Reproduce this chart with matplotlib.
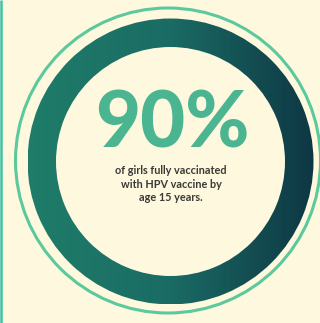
import numpy as np
import matplotlib
matplotlib.use("Agg")
import matplotlib.pyplot as plt
from matplotlib.patches import Wedge, Circle
from matplotlib.colors import LinearSegmentedColormap

# 数据
pct_value = 90
caption_lines = ["of girls fully vaccinated", "with HPV vaccine by", "age 15 years."]

bg = "#fef8df"
W, H = 320, 323

fig = plt.figure(figsize=(W / 100, H / 100), dpi=100, facecolor=bg)
ax = fig.add_axes([0, 0, 1, 1])
ax.set_xlim(0, W)
ax.set_ylim(H, 0)
ax.set_aspect("equal")
ax.axis("off")
ax.set_facecolor(bg)

# 左边的细线
ax.plot([0.6, 0.6], [0, H], color="#3fc2a8", lw=1.8, solid_capstyle="butt")

# 外圈细环
ax.add_patch(Circle((168, 160.5), 152.5, fill=False, ec="#5cc99d", lw=2.2))

# 渐变粗环
cx, cy, r_out, r_in = 170.5, 161.5, 143, 114.5
ring = Wedge((cx, cy), r_out, 0, 360, width=r_out - r_in, fc="none", ec="none")
ax.add_patch(ring)
cmap = LinearSegmentedColormap.from_list("ring", ["#1f7d69", "#1a6b64", "#0e3744"])
grad = np.linspace(0, 1, 256).reshape(1, -1)
im = ax.imshow(grad, cmap=cmap, extent=[cx - r_out, cx + r_out, cy + r_out, cy - r_out],
               aspect="auto", interpolation="bilinear")
im.set_clip_path(ring)

# 文字
ax.text(172, 125, f"{pct_value}%", ha="center", va="center", fontsize=56,
        fontweight="black", family="Lato", color="#4bb592")
ax.text(171, 184, "\n".join(caption_lines), ha="center", va="center", fontsize=7.8,
        family="Lato", fontweight="bold", color="#3a3a36", linespacing=1.3)

fig.savefig("out.png", dpi=100, facecolor=bg)
